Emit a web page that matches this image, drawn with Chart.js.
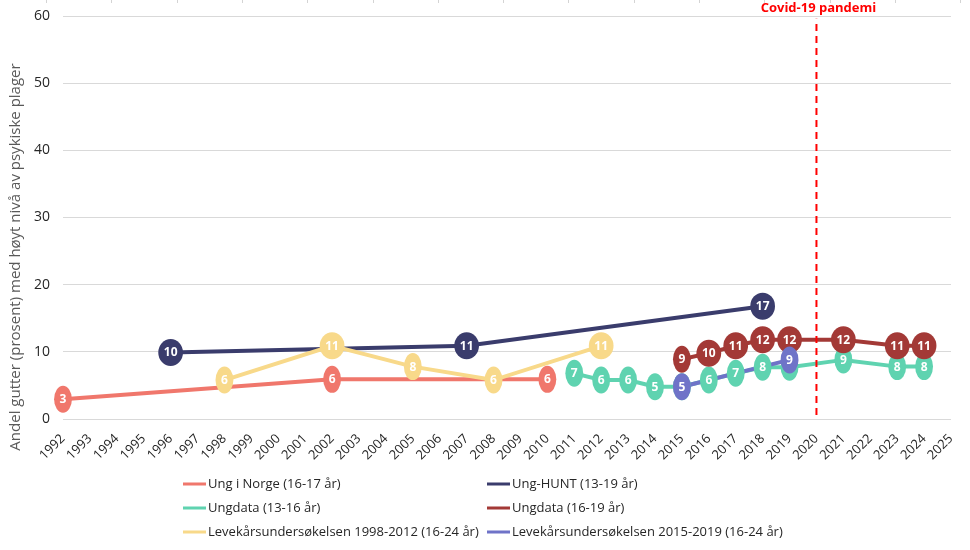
<!DOCTYPE html>
<html>
<head>
<meta charset="utf-8">
<script src="https://cdn.jsdelivr.net/npm/chart.js@4.4.1/dist/chart.umd.min.js"></script>
<style>
  html, body { margin: 0; padding: 0; background: #ffffff; }
  #wrap { width: 970px; height: 550px; position: relative; }
</style>
</head>
<body>
<div id="wrap"><canvas id="c" width="970" height="550"></canvas></div>
<script>
// ---- Data ----
const years = ['1992','1993','1994','1995','1996','1997','1998','1999','2000','2001','2002','2003','2004','2005','2006','2007','2008','2009','2010','2011','2012','2013','2014','2015','2016','2017','2018','2019','2020','2021','2022','2023','2024','2025'];
const yTicks = [0, 10, 20, 30, 40, 50, 60];

//                   1992 93   94   95   96   97   98   99   00   01   02   03   04   05   06   07   08   09   10   11   12   13   14   15   16   17   18   19   20   21   22   23   24   25
const ungINorge   = [2.95,null,null,null,null,null,null,null,null,null,5.9, null,null,null,null,null,null,null,5.9, null,null,null,null,null,null,null,null,null,null,null,null,null,null,null];
const ungHunt     = [null,null,null,null,9.9, null,null,null,null,null,null,null,null,null,null,10.9,null,null,null,null,null,null,null,null,null,null,16.8,null,null,null,null,null,null,null];
const ungdata1316 = [null,null,null,null,null,null,null,null,null,null,null,null,null,null,null,null,null,null,null,6.8, 5.8, 5.8, 4.8, 4.8, 5.8, 6.8, 7.7, 7.7, null,8.8, null,7.8, 7.8, null];
const ungdata1619 = [null,null,null,null,null,null,null,null,null,null,null,null,null,null,null,null,null,null,null,null,null,null,null,8.9, 9.8, 10.9,11.8,11.8,null,11.8,null,10.9,10.9,null];
const levekar9812 = [null,null,null,null,null,null,5.8, null,null,null,10.9,null,null,7.8, null,null,5.8, null,null,null,10.9,null,null,null,null,null,null,null,null,null,null,null,null,null];
const levekar1519 = [null,null,null,null,null,null,null,null,null,null,null,null,null,null,null,null,null,null,null,null,null,null,null,4.8, null,null,null,8.8, null,null,null,null,null,null];

const seriesNames = [
  'Ung i Norge (16-17 år)',
  'Ung-HUNT (13-19 år)',
  'Ungdata (13-16 år)',
  'Ungdata (16-19 år)',
  'Levekårsundersøkelsen 1998-2012 (16-24 år)',
  'Levekårsundersøkelsen 2015-2019 (16-24 år)'
];
const seriesColors = ['#F0776C', '#3A3C6C', '#5FD3B0', '#A33936', '#F8D98A', '#6F73C8'];
const seriesValues = [ungINorge, ungHunt, ungdata1316, ungdata1619, levekar9812, levekar1519];

const covidYear = '2020';
const covidLabel = 'Covid-19 pandemi';
const yTitle = 'Andel gutter (prosent) med høyt nivå av psykiske plager';

const FONT = "'Open Sans', 'Liberation Sans', sans-serif";

// ---- Datasets ----
const datasets = seriesValues.map((vals, i) => ({
  label: seriesNames[i],
  data: vals,
  borderColor: seriesColors[i],
  backgroundColor: seriesColors[i],
  borderWidth: 4,
  pointRadius: 0,
  pointHoverRadius: 0,
  spanGaps: true,
  tension: 0,
  order: 10 - i,
  isSeries: true
}));
datasets.push({
  label: 'covid',
  data: [{x: covidYear, y: 0.6}, {x: covidYear, y: 59.6}],
  borderColor: '#FF0000',
  borderWidth: 2,
  borderDash: [7, 5],
  pointRadius: 0,
  pointHoverRadius: 0,
  order: 0,
  isSeries: false
});

// ---- Plugins ----
const topTicksPlugin = {
  id: 'topTicks',
  beforeDraw(chart) {
    const ctx = chart.ctx;
    ctx.save();
    ctx.strokeStyle = '#d4d4d4';
    ctx.lineWidth = 1;
    for (let x = 46; x < 970; x += 65.3) {
      ctx.beginPath();
      ctx.moveTo(Math.round(x) + 0.5, 0);
      ctx.lineTo(Math.round(x) + 0.5, 3);
      ctx.stroke();
    }
    ctx.restore();
  }
};

const yTitlePlugin = {
  id: 'yTitle',
  afterDraw(chart) {
    const ctx = chart.ctx;
    ctx.save();
    ctx.translate(16, 257);
    ctx.rotate(-Math.PI / 2);
    ctx.font = "15px " + FONT;
    ctx.fillStyle = '#595959';
    ctx.textAlign = 'center';
    ctx.textBaseline = 'middle';
    ctx.fillText(yTitle, 0, 0);
    ctx.restore();
  }
};

const labelPlugin = {
  id: 'ellipseLabels',
  afterDatasetsDraw(chart) {
    const ctx = chart.ctx;
    ctx.save();
    ctx.font = "bold 12px " + FONT;
    ctx.textAlign = 'center';
    ctx.textBaseline = 'middle';
    chart.data.datasets.forEach((ds, di) => {
      if (!ds.isSeries) return;
      const meta = chart.getDatasetMeta(di);
      meta.data.forEach((el, idx) => {
        const v = ds.data[idx];
        if (v === null || v === undefined) return;
        const txt = String(Math.round(v));
        const tw = ctx.measureText(txt).width;
        const rx = tw / 2 + 5.5;
        const ry = 13.5;
        ctx.beginPath();
        ctx.ellipse(el.x, el.y, rx, ry, 0, 0, Math.PI * 2);
        ctx.fillStyle = ds.backgroundColor;
        ctx.fill();
        ctx.fillStyle = '#ffffff';
        ctx.fillText(txt, el.x, el.y + 0.5);
      });
    });
    ctx.restore();
  }
};

const covidTextPlugin = {
  id: 'covidText',
  afterDraw(chart) {
    const ctx = chart.ctx;
    const x = chart.scales.x.getPixelForValue(years.indexOf(covidYear));
    ctx.save();
    ctx.font = "bold 13px " + FONT;
    ctx.fillStyle = '#FF0000';
    ctx.textAlign = 'center';
    ctx.textBaseline = 'middle';
    ctx.fillText(covidLabel, x + 2, 8);
    ctx.restore();
  }
};

const gridLegendPlugin = {
  id: 'gridLegend',
  afterDraw(chart) {
    const ctx = chart.ctx;
    const items = chart.data.datasets.filter(d => d.isSeries);
    ctx.save();
    ctx.font = "13px " + FONT;
    ctx.textBaseline = 'middle';
    ctx.textAlign = 'left';
    const lineW = 23, gapAfterLine = 2;
    const col1 = items.filter((_, i) => i % 2 === 0);
    const w1 = Math.max(...col1.map(d => ctx.measureText(d.label).width));
    const x1 = 183;
    const x2 = Math.max(487, x1 + lineW + gapAfterLine + w1 + 3);
    const rowsY = [484, 508, 532];
    items.forEach((d, i) => {
      const x = i % 2 === 0 ? x1 : x2;
      const y = rowsY[Math.floor(i / 2)];
      ctx.fillStyle = d.borderColor;
      ctx.fillRect(x, y - 1.5, lineW, 3);
      ctx.fillStyle = '#262626';
      ctx.fillText(d.label, x + lineW + gapAfterLine, y);
    });
    ctx.restore();
  }
};

// ---- Chart ----
new Chart(document.getElementById('c'), {
  type: 'line',
  data: { labels: years, datasets },
  options: {
    responsive: false,
    animation: false,
    events: [],
    layout: { padding: { top: 16, right: 19, left: 0, bottom: 81 } },
    plugins: { legend: { display: false }, tooltip: { enabled: false } },
    scales: {
      x: {
        type: 'category',
        offset: false,
        grid: { display: true, drawOnChartArea: false, drawTicks: true, tickLength: 10, tickColor: 'rgba(0,0,0,0)', color: 'rgba(0,0,0,0)' },
        border: { display: false },
        ticks: {
          autoSkip: false,
          maxRotation: 45,
          minRotation: 45,
          padding: 2,
          color: '#262626',
          font: { family: FONT, size: 13 }
        },
        afterFit(scale) { scale.height = 50; }
      },
      y: {
        min: 0,
        max: 60,
        afterBuildTicks(scale) { scale.ticks = yTicks.map(v => ({ value: v })); },
        grid: { color: '#d9d9d9', lineWidth: 1, drawTicks: true, tickLength: 12, tickColor: 'rgba(0,0,0,0)' },
        border: { display: false },
        ticks: {
          padding: 1,
          color: '#262626',
          font: { family: FONT, size: 14 }
        },
        afterFit(scale) { scale.width = 63; }
      }
    }
  },
  plugins: [topTicksPlugin, yTitlePlugin, labelPlugin, covidTextPlugin, gridLegendPlugin]
});
</script>
</body>
</html>
